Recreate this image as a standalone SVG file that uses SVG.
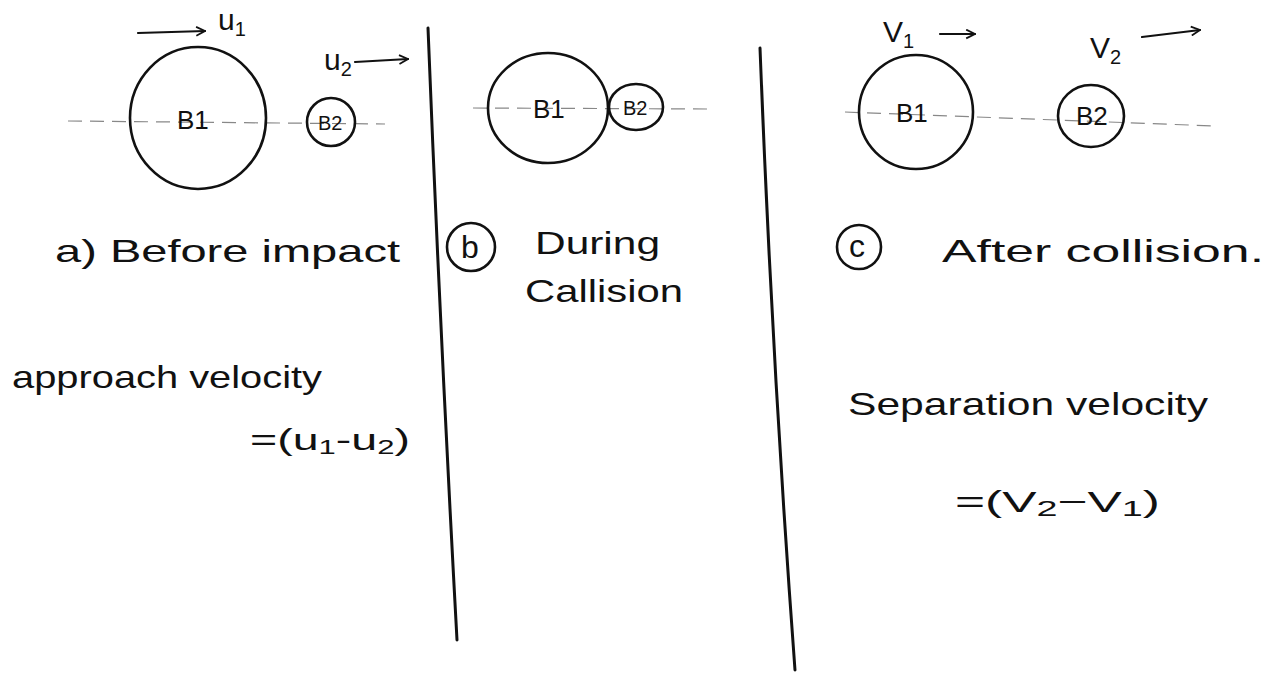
<svg xmlns="http://www.w3.org/2000/svg" width="1280" height="673" viewBox="0 0 1280 673">
<defs>
<style>
.ball{fill:none;stroke:#111;stroke-width:2.6}
.axis{fill:none;stroke:#888;stroke-width:1.2;stroke-dasharray:14 8}
.div{fill:none;stroke:#111;stroke-width:3;stroke-linecap:round}
.arr{fill:none;stroke:#111;stroke-width:2.2;stroke-linecap:round}
.t{font-family:"Liberation Sans","DejaVu Sans",sans-serif;fill:#111}
.lbl{font-size:30px}
.bl{font-size:26px}
.bs{font-size:20px}
.cap{font-size:32px}
.eq{font-size:30px}
</style>
<marker id="ah" viewBox="0 0 10 10" refX="9" refY="5" markerWidth="11" markerHeight="11" orient="auto" markerUnits="userSpaceOnUse">
<path d="M1,1 L9,5 L1,9" fill="none" stroke="#111" stroke-width="1.6"/>
</marker>
</defs>
<rect width="1280" height="673" fill="#fff"/>

<g id="dividers">
<path class="div" d="M428,28 Q440,330 457,640"/>
<path class="div" d="M760,48 Q772,360 795,670"/>
</g>

<g id="connectors">
<line class="axis" x1="68" y1="121" x2="385" y2="124"/>
<line class="axis" x1="473" y1="108" x2="710" y2="109"/>
<line class="axis" x1="845" y1="112" x2="1215" y2="126"/>
<line class="arr" x1="138" y1="33" x2="205" y2="31" marker-end="url(#ah)"/>
<line class="arr" x1="355" y1="62" x2="408" y2="59" marker-end="url(#ah)"/>
<line class="arr" x1="940" y1="34" x2="975" y2="34" marker-end="url(#ah)"/>
<line class="arr" x1="1142" y1="37" x2="1200" y2="30" marker-end="url(#ah)"/>
</g>

<g id="panel-a">
<g id="a-B1">
<ellipse class="ball" cx="198" cy="118" rx="68" ry="71"/>
<text class="t bl" x="177" y="129">B1</text>
</g>
<g id="a-B2">
<circle class="ball" cx="331" cy="122" r="24"/>
<text class="t bs" x="318" y="130">B2</text>
</g>
<text class="t lbl" x="218" y="30">u<tspan font-size="20" dy="6">1</tspan></text>
<text class="t lbl" x="324" y="70">u<tspan font-size="20" dy="6">2</tspan></text>
<text class="t cap" x="55" y="262" textLength="345" lengthAdjust="spacingAndGlyphs">a)  Before impact</text>
<text class="t cap" x="12" y="388" textLength="310" lengthAdjust="spacingAndGlyphs">approach velocity</text>
<text class="t eq" x="250" y="450" textLength="160" lengthAdjust="spacingAndGlyphs">=(u<tspan font-size="20" dy="4">1</tspan><tspan dy="-4">-u</tspan><tspan font-size="20" dy="4">2</tspan><tspan dy="-4">)</tspan></text>
</g>

<g id="panel-b">
<g id="b-B1">
<ellipse class="ball" cx="548" cy="108" rx="60" ry="55"/>
<text class="t bl" x="533" y="118">B1</text>
</g>
<g id="b-B2">
<ellipse class="ball" cx="636" cy="107" rx="27" ry="23"/>
<text class="t bs" x="623" y="115">B2</text>
</g>
<circle class="ball" cx="471" cy="247" r="24"/>
<text class="t cap" x="461" y="258" font-size="30">b</text>
<text class="t cap" x="535" y="254" textLength="125" lengthAdjust="spacingAndGlyphs">During</text>
<text class="t cap" x="525" y="302" textLength="158" lengthAdjust="spacingAndGlyphs">Callision</text>
</g>

<g id="panel-c">
<g id="c-B1">
<circle class="ball" cx="916" cy="112" r="57"/>
<text class="t bl" x="896" y="122">B1</text>
</g>
<g id="c-B2">
<ellipse class="ball" cx="1091" cy="116" rx="33" ry="31"/>
<text class="t bl" x="1076" y="125" font-size="22">B2</text>
</g>
<text class="t lbl" x="883" y="42">V<tspan font-size="20" dy="6">1</tspan></text>
<text class="t lbl" x="1090" y="58">V<tspan font-size="20" dy="6">2</tspan></text>
<circle class="ball" cx="859" cy="247" r="22"/>
<text class="t cap" x="849" y="257" font-size="28">c</text>
<text class="t cap" x="942" y="262" textLength="322" lengthAdjust="spacingAndGlyphs">After collision.</text>
<text class="t cap" x="848" y="415" textLength="360" lengthAdjust="spacingAndGlyphs">Separation velocity</text>
<text class="t eq" x="955" y="512" textLength="205" lengthAdjust="spacingAndGlyphs">=(V<tspan font-size="22" dy="4">2</tspan><tspan dy="-4">−V</tspan><tspan font-size="22" dy="4">1</tspan><tspan dy="-4">)</tspan></text>
</g>
</svg>
